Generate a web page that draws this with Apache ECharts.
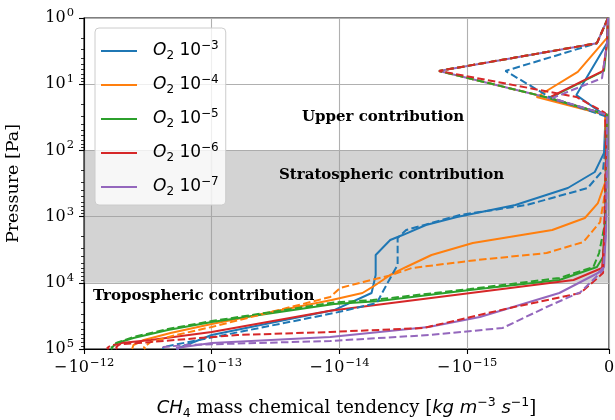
<!DOCTYPE html>
<html><head><meta charset="utf-8">
<script src="https://cdn.jsdelivr.net/npm/echarts@6/dist/echarts.min.js"></script>
<style>html,body{margin:0;padding:0;background:#fff}#c{width:615px;height:420px}</style>
</head><body><div id="c"></div>
<script>
// ---- data: [CH4 tendency (kg m-3 s-1), pressure (Pa)] ----
const blueSolid = [[-7e-18,1],[-1.4e-17,2.4],[-1.3e-16,6.3],[-2.3e-16,14.6],[-1.4e-17,31],[-2.8e-17,46],[-3.5e-17,109],[-1.0e-16,212],[-2.9e-16,370],[-6.6e-16,668],[-1.2e-15,1014],[-2.1e-15,1340],[-3.2e-15,1900],[-4.0e-15,2255],[-5.2e-15,3800],[-5.2e-15,7600],[-5.6e-15,14260],[-1.1e-14,25800],[-1.0e-13,61500],[-1.9e-13,1e5]];
const blueDashed = [[-7e-18,1],[-8.5e-17,2.4],[-7.3e-16,6.3],[-4.2e-16,15.6],[-1.4e-17,31],[-2.8e-17,99],[-4.2e-17,198],[-1.5e-16,370],[-5.8e-16,668],[-1.14e-15,946],[-3.0e-15,1593],[-3.5e-15,2104],[-3.5e-15,5383],[-4.2e-15,10070],[-5.1e-15,20200],[-1.1e-14,28600],[-8.0e-14,61500],[-2.4e-13,93300],[-2.4e-13,1e5]];
const orangeSolid = [[-7e-18,1],[-1.4e-17,2.0],[-2.2e-16,6.5],[-5.1e-16,15.6],[-2.8e-17,29],[-2.1e-17,99],[-2.1e-17,280],[-7.8e-17,624],[-1.7e-16,1050],[-4.0e-16,1593],[-9.6e-16,2505],[-1.9e-15,3802],[-3.0e-15,5768],[-4.0e-15,7621],[-5.5e-15,11560],[-6.6e-15,14260],[-1.15e-14,18200],[-1.0e-13,41900],[-2.1e-13,57300],[-3.4e-13,73100],[-4.1e-13,87000],[-4.2e-13,1e5]];
const orangeDashed = [[-7e-18,1],[-8.5e-17,2.4],[-1.66e-15,6.3],[-4.5e-16,15.6],[-1.4e-17,29],[-2.1e-17,99],[-2.8e-17,440],[-6.3e-17,1208],[-1.8e-16,2418],[-4.4e-16,3548],[-9.3e-16,4528],[-2.7e-15,5973],[-3.9e-15,7621],[-6.5e-15,9727],[-9.9e-15,11990],[-1.18e-14,16400],[-1.0e-13,46500],[-1.9e-13,61500],[-3.0e-13,78400],[-3.4e-13,93300],[-3.3e-13,1e5]];
const greenSolid = [[-7e-18,1],[-1.4e-17,2.4],[-3.5e-17,6.3],[-4.2e-16,16.2],[-1.4e-17,29],[-2.1e-17,99],[-2.1e-17,560],[-4.2e-17,4074],[-8.5e-17,5768],[-3.5e-16,9078],[-9.8e-16,12850],[-5.1e-15,19000],[-1.1e-14,20900],[-1.0e-13,39100],[-2.2e-13,51600],[-4.1e-13,68200],[-5.5e-13,81200],[-6.0e-13,93300],[-6.1e-13,1e5]];
const greenDashed = [[-7e-18,1],[-8.5e-17,2.4],[-1.66e-15,6.3],[-4.5e-16,15.6],[-1.4e-17,29],[-2.1e-17,99],[-2.8e-17,1250],[-7e-17,3548],[-1.1e-16,5768],[-3.5e-16,8453],[-9.8e-16,12400],[-5.5e-15,18200],[-1.1e-14,19800],[-1.0e-13,37800],[-2.2e-13,49800],[-4.1e-13,65900],[-5.6e-13,81200],[-6.1e-13,96600],[-6.0e-13,1e5]];
const redSolid = [[-7e-18,1],[-1.4e-17,2.4],[-4.2e-17,6.3],[-4.3e-16,16.2],[-1.4e-17,29],[-2.1e-17,99],[-2.8e-17,1593],[-4.9e-17,5973],[-2.5e-16,9078],[-1.18e-14,26500],[-1.0e-13,55300],[-3.0e-13,73100],[-5.1e-13,81200],[-5.6e-13,93300],[-5.5e-13,1e5]];
const redDashed = [[-7e-18,1],[-8.5e-17,2.4],[-1.66e-15,6.3],[-2.3e-16,15.6],[-2.8e-17,27],[-2.1e-17,99],[-2.8e-17,440],[-4.2e-17,7112],[-2.0e-16,14260],[-7.0e-16,24000],[-2.2e-15,48200],[-1.18e-14,55300],[-6.3e-14,61500],[-3.0e-13,78400],[-6.1e-13,87000],[-6.6e-13,96600],[-6.4e-13,1e5]];
const purpleSolid = [[-7e-18,1],[-8.5e-17,2.4],[-1.66e-15,6.3],[-4.5e-16,15.6],[-1.4e-17,29],[-1.4e-17,99],[-2.1e-17,1593],[-3.5e-17,5768],[-7.8e-17,7112],[-3.5e-16,14260],[-9.1e-16,32900],[-2.0e-15,46500],[-1.18e-14,65900],[-1.0e-13,81200],[-1.9e-13,96600],[-1.8e-13,1e5]];
const purpleDashed = [[-7e-18,1],[-1.4e-17,2.4],[-4.9e-17,8.1],[-4.0e-16,16.2],[-1.4e-17,29],[-1.4e-17,99],[-2.1e-17,1593],[-4.2e-17,6412],[-2.0e-16,13800],[-4.4e-16,23200],[-7.5e-16,48200],[-2.0e-15,61500],[-1.18e-14,75700],[-1.6e-13,87000],[-2.4e-13,93300],[-2.4e-13,1e5]];

const seriesNames = ['O2 10^-3','O2 10^-4','O2 10^-5','O2 10^-6','O2 10^-7'];
const legendExp = ['−3','−4','−5','−6','−7'];
const xTickValues = [-1e-12, -1e-13, -1e-14, -1e-15, 0];
const xTickBase = ['10','10','10','10','0'];
const xTickSign = ['−','−','−','−',''];
const xTickExp = ['−12','−13','−14','−15',''];
const yTickExp = ['0','1','2','3','4','5'];
const bandRange = [100, 10000];
const annotations = ['Upper contribution','Stratospheric contribution','Tropospheric contribution'];

// ---- symlog transform (linthresh 1e-15, linscale 1, base 10) ----
const LINTHRESH = 1e-15, LINSCALE = 1 / (1 - 1 / 10);
function symlog(v) {
  const a = Math.abs(v);
  if (a <= LINTHRESH) return v / LINTHRESH * LINSCALE;
  return Math.sign(v) * (LINSCALE + Math.log10(a / LINTHRESH));
}

const colors = ['#1f77b4','#ff7f0e','#2ca02c','#d62728','#9467bd'];
const solids = [blueSolid, orangeSolid, greenSolid, redSolid, purpleSolid];
const dashes = [blueDashed, orangeDashed, greenDashed, redDashed, purpleDashed];

const series = [];
series.push({
  type: 'line', data: [], silent: true, z: 1,
  markArea: { silent: true, z: 1, itemStyle: { color: 'rgba(160,160,160,0.463)' },
    data: [[{ yAxis: bandRange[0] }, { yAxis: bandRange[1] }]] }
});
solids.forEach((d, i) => series.push({
  name: seriesNames[i], type: 'line', showSymbol: false, symbol: 'none', z: 3,
  data: d.map(p => [symlog(p[0]), p[1]]),
  lineStyle: { color: colors[i], width: 2 }, itemStyle: { color: colors[i] }
}));
dashes.forEach((d, i) => series.push({
  name: seriesNames[i] + ' b', type: 'line', showSymbol: false, symbol: 'none', z: 3,
  data: d.map(p => [symlog(p[0]), p[1]]),
  lineStyle: { color: colors[i], width: 2, type: [7.5, 3.3] }, itemStyle: { color: colors[i] }
}));

const serif = '"DejaVu Serif"';
const sans = '"DejaVu Sans"';
const xTicksT = xTickValues.map(symlog);
// minor log ticks (2..9 x 10^n), expressed as log10 positions for a linear helper axis
const minorLogY = [];
for (let e = 0; e < 5; e++) for (let k = 2; k <= 9; k++) minorLogY.push(e + Math.log10(k));

const tickRich = {
  m: { fontFamily: serif, fontSize: 16, color: '#000', lineHeight: 22, padding: [0, 1.5, 0, 0] },
  b: { fontFamily: serif, fontSize: 16, color: '#000', lineHeight: 22 },
  s: { fontFamily: serif, fontSize: 11.5, color: '#000', lineHeight: 11, verticalAlign: 'top', padding: [0, 0, 0, 1] }
};
const gridBox = { left: 84, right: 6, top: 18, bottom: 71, outerBoundsMode: 'none', containLabel: false };

const option = {
  animation: false,
  grid: [
    Object.assign({ show: true, borderColor: '#000', borderWidth: 1.1, backgroundColor: 'transparent' }, gridBox),
    Object.assign({ show: false }, gridBox)
  ],
  xAxis: [{
    type: 'value', min: symlog(-1e-12), max: 0, gridIndex: 0,
    axisLine: { show: true, onZero: false, lineStyle: { color: '#000', width: 1.1 } },
    axisTick: { show: true, length: 5, customValues: xTicksT, lineStyle: { color: '#000', width: 1.1 } },
    axisLabel: { customValues: xTicksT, margin: 8, formatter: function (v) {
      let idx = 0, best = 1e9;
      xTicksT.forEach((t, i) => { if (Math.abs(t - v) < best) { best = Math.abs(t - v); idx = i; } });
      return xTickExp[idx] ? '{m|' + xTickSign[idx] + '}{b|' + xTickBase[idx] + '}{s|' + xTickExp[idx] + '}' : '{b|' + xTickBase[idx] + '}';
    }, rich: tickRich },
    splitLine: { show: true, lineStyle: { color: '#b0b0b0', width: 1.1 } },
    name: '{i|CH}{d|4}{r| mass chemical tendency [}{i|kg m}{u|−3}{i| s}{u|−1}{r|]}',
    nameLocation: 'middle', nameGap: 47,
    nameTextStyle: { rich: {
      i: { fontFamily: sans, fontStyle: 'italic', fontSize: 18, color: '#000', lineHeight: 24 },
      r: { fontFamily: serif, fontSize: 18, color: '#000', lineHeight: 24 },
      d: { fontFamily: sans, fontSize: 12.5, color: '#000', lineHeight: 12, verticalAlign: 'bottom' },
      u: { fontFamily: sans, fontSize: 12.5, color: '#000', lineHeight: 12, verticalAlign: 'top' }
    } }
  }, {
    type: 'value', min: 0, max: 1, gridIndex: 1, show: false
  }],
  yAxis: [{
    type: 'log', logBase: 10, min: 1, max: 1e5, inverse: true, gridIndex: 0,
    axisLine: { show: true, onZero: false, lineStyle: { color: '#000', width: 1.1 } },
    axisTick: { show: true, length: 5, lineStyle: { color: '#000', width: 1.1 } },
    axisLabel: { margin: 10, formatter: function (v) {
      const e = Math.round(Math.log10(v));
      return '{b|10}{s|' + yTickExp[e] + '}';
    }, rich: tickRich },
    splitLine: { show: true, lineStyle: { color: '#b0b0b0', width: 1.1 } },
    name: 'Pressure [Pa]', nameLocation: 'middle', nameGap: 62,
    nameTextStyle: { fontFamily: serif, fontSize: 17.5, color: '#000' }
  }, {
    type: 'value', min: 0, max: 5, inverse: true, position: 'left', gridIndex: 1,
    axisLine: { show: false, onZero: false }, axisLabel: { show: false }, splitLine: { show: false },
    axisTick: { show: true, length: 3, customValues: minorLogY, lineStyle: { color: '#000', width: 0.8 } }
  }],
  legend: {
    orient: 'vertical', left: 95, top: 28,
    data: seriesNames, icon: 'rect', itemWidth: 36, itemHeight: 2, itemGap: 12,
    padding: [12, 7, 7, 6],
    backgroundColor: 'rgba(255,255,255,0.8)', borderColor: '#cccccc', borderWidth: 1, borderRadius: 4,
    formatter: function (name) {
      const i = seriesNames.indexOf(name);
      return '{o|O}{d|2}{n| 10}{s|' + legendExp[i] + '}';
    },
    textStyle: { rich: {
      o: { fontFamily: sans, fontStyle: 'italic', fontSize: 17, color: '#000', lineHeight: 22, padding: [0, 0, 0, 11] },
      n: { fontFamily: sans, fontSize: 17, color: '#000', lineHeight: 22 },
      d: { fontFamily: sans, fontSize: 12, color: '#000', lineHeight: 11, verticalAlign: 'bottom' },
      s: { fontFamily: sans, fontSize: 12, color: '#000', lineHeight: 11, verticalAlign: 'top' }
    } }
  },
  graphic: [
    { type: 'text', left: 302, top: 110, z: 10, style: { text: annotations[0], font: 'bold 15px ' + serif, fill: '#000' } },
    { type: 'text', left: 279, top: 168, z: 10, style: { text: annotations[1], font: 'bold 15px ' + serif, fill: '#000' } },
    { type: 'text', left: 93, top: 289, z: 10, style: { text: annotations[2], font: 'bold 15px ' + serif, fill: '#000' } }
  ],
  series: series
};
const chart = echarts.init(document.getElementById('c'));
chart.setOption(option);
</script></body></html>
